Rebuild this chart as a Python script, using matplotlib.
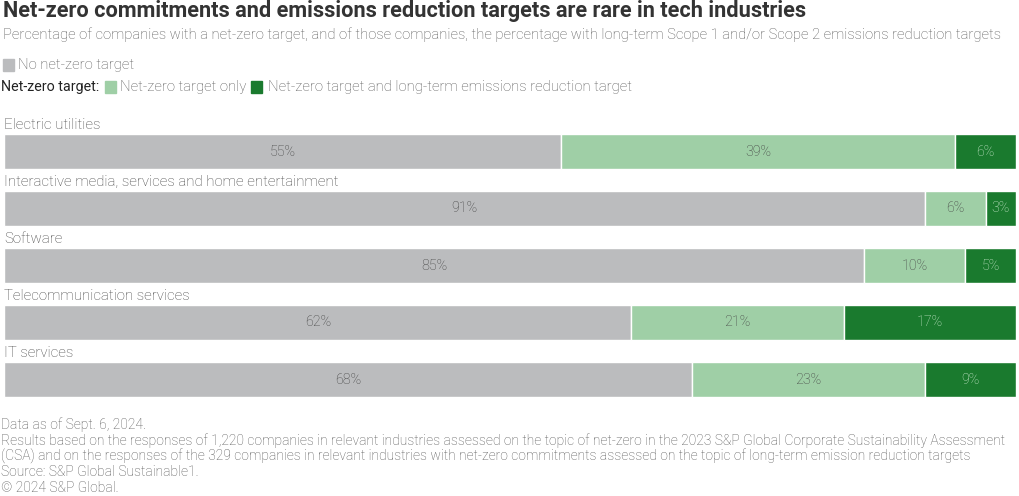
import matplotlib
matplotlib.use("Agg")
import matplotlib.pyplot as plt
from matplotlib.patches import Rectangle

categories = ["Electric utilities",
              "Interactive media, services and home entertainment",
              "Software",
              "Telecommunication services",
              "IT services"]
no_target = [55, 91, 85, 62, 68]
target_only = [39, 6, 10, 21, 23]
target_and_reduction = [6, 3, 5, 17, 9]
series_names = ["No net-zero target", "Net-zero target only",
                "Net-zero target and long-term emissions reduction target"]

colors = ["#bbbcbe", "#9fcfa6", "#1a7a2e"]
text_colors = ["#444444", "#444444", "#c8e8cb"]

plt.rcParams['font.family'] = ['Roboto', 'DejaVu Sans']
W, H = 1020, 496
fig = plt.figure(figsize=(W / 100, H / 100), dpi=100)

def px(x, y):
    return x / W, 1 - y / H

left, right = 4, 1016
top, bottom = 123, 408
ax = fig.add_axes([left / W, 1 - bottom / H, (right - left) / W, (bottom - top) / H])
ax.set_xlim(0, 100)
ax.set_ylim(len(categories) - 0.5, -0.5)
ax.axis("off")

bar_h = 35 / 57
series = [no_target, target_only, target_and_reduction]
for i, cat in enumerate(categories):
    start = 0
    for s, vals in enumerate(series):
        v = vals[i]
        ax.barh(i, v, left=start, height=bar_h, color=colors[s],
                edgecolor="white", linewidth=1)
        ax.text(start + v / 2, i, f"{v}%", ha="center", va="center",
                fontsize=10.3, color=text_colors[s], fontweight="light")
        start += v
    ax.annotate(cat, xy=(0, i - bar_h / 2), xytext=(0, 1.5), textcoords="offset points",
                ha="left", va="bottom", fontsize=10.8, color="#444444", fontweight="light")

fig.text(*px(3, 11), "Net-zero commitments and emissions reduction targets are rare in tech industries",
         fontsize=15.65, fontweight="bold", color="#333333", va="center", ha="left")
fig.text(*px(3, 35), "Percentage of companies with a net-zero target, and of those companies, the percentage with long-term Scope 1 and/or Scope 2 emissions reduction targets",
         fontsize=10.6, color="#555555", va="center", ha="left", fontweight="light")

sq = 11
def square(x, y, c):
    fig.patches.append(Rectangle(px(x, y + sq / 2), sq / W, sq / H, color=c,
                                 transform=fig.transFigure, figure=fig))

square(3, 65, colors[0])
fig.text(*px(18, 65), series_names[0], fontsize=10.75, color="#555555", va="center", fontweight="light")
fig.text(*px(1, 87), "Net-zero target:", fontsize=10.3, color="#222222", va="center")
square(105, 87, colors[1])
fig.text(*px(120, 87), series_names[1], fontsize=10.75, color="#555555", va="center", fontweight="light")
square(251, 87, colors[2])
fig.text(*px(268, 87), series_names[2], fontsize=10.75, color="#555555", va="center", fontweight="light")

notes = ["Data as of Sept. 6, 2024.",
         "Results based on the responses of 1,220 companies in relevant industries assessed on the topic of net-zero in the 2023 S&P Global Corporate Sustainability Assessment",
         "(CSA) and on the responses of the 329 companies in relevant industries with net-zero commitments assessed on the topic of long-term emission reduction targets",
         "Source: S&P Global Sustainable1.",
         "\u00a9 2024 S&P Global."]
for k, line in enumerate(notes):
    fig.text(*px(1, 425 + 15.7 * k), line, fontsize=9.98, color="#555555", va="center", fontweight="light")

fig.savefig("out.png", dpi=100)
